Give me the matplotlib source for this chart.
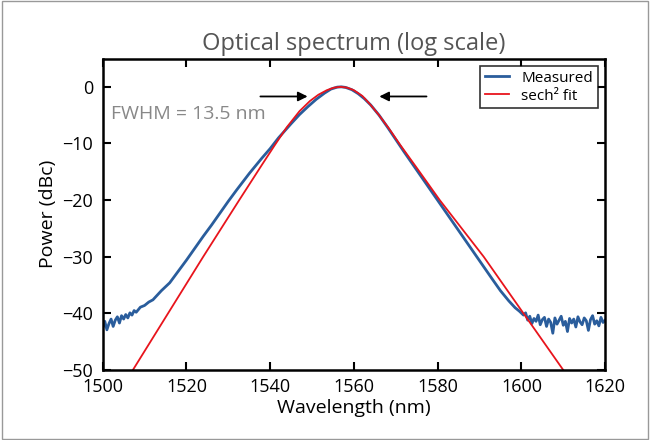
import numpy as np
import matplotlib.pyplot as plt

plt.rcParams['font.family'] = ['Open Sans', 'DejaVu Sans']

# measured spectrum (nm, dBc)
meas_wl = [1500, 1500.5, 1501, 1501.5, 1502, 1502.5, 1503, 1503.5, 1504, 1504.5, 1505, 1505.5,
           1506, 1506.5, 1507, 1507.5, 1508, 1509, 1510, 1511, 1512, 1513, 1514, 1516,
           1518, 1520, 1522, 1524, 1526, 1528, 1530, 1532, 1535, 1538, 1540, 1542, 1545,
           1547, 1549, 1551, 1553, 1554.5, 1556, 1557, 1558, 1559.5, 1561, 1562.5, 1564,
           1566, 1568, 1570, 1572, 1575, 1578, 1581, 1584, 1587, 1590, 1593, 1595,
           1597, 1598.5, 1599.5, 1600.5, 1601, 1601.5, 1602, 1602.5, 1603,
           1603.5, 1604, 1604.5, 1605, 1605.5, 1606, 1606.5, 1607, 1607.5, 1608, 1608.5,
           1609, 1609.5, 1610, 1610.5, 1611, 1611.5, 1612, 1612.5, 1613, 1613.5, 1614,
           1614.5, 1615, 1615.5, 1616, 1616.5, 1617, 1617.5, 1618, 1618.5, 1619, 1619.5, 1620]
meas_db = [-42.6, -41.4, -42.9, -41.8, -41.0, -42.3, -41.2, -40.6, -41.7, -40.4, -41.0, -40.2,
           -40.8, -39.9, -40.3, -39.5, -39.8, -38.9, -38.6, -38.0, -37.6, -36.8, -36.0, -34.6,
           -32.6, -30.6, -28.5, -26.4, -24.4, -22.3, -20.2, -18.2, -15.3, -12.6, -10.9, -9.0, -6.5,
           -4.9, -3.5, -2.2, -1.1, -0.4, -0.05, 0.0, -0.1, -0.5, -1.2, -2.1, -3.2,
           -5.0, -7.1, -9.3, -11.5, -14.7, -17.9, -21.1, -24.3, -27.5, -30.7, -33.9, -36.0,
           -37.8, -39.0, -39.6, -40.3, -39.9, -41.2, -40.5, -41.8, -40.9,
           -41.4, -40.3, -42.0, -41.1, -40.7, -42.3, -41.0, -41.6, -43.5, -40.8, -41.9,
           -41.2, -40.5, -42.1, -41.4, -43.2, -40.9, -41.7, -41.0, -42.4, -40.6, -41.5,
           -42.0, -40.8, -41.3, -43.0, -41.1, -40.4, -41.9, -41.3, -42.2, -40.7, -41.6, -41.2]

# sech^2 fit
fit_wl = [1500, 1507.2, 1515.6, 1524, 1532.6, 1538, 1541, 1544, 1547, 1549.5, 1551.5,
          1553.5, 1555.2, 1556.8, 1558.4, 1560, 1562, 1564, 1566, 1568.5, 1571, 1575,
          1580.5, 1591, 1600.5, 1610, 1620]
fit_db = [-58.5, -50.0, -40.0, -30.0, -20.0, -13.8, -10.4, -7.1, -4.3, -2.5, -1.4,
          -0.6, -0.15, 0.0, -0.15, -0.6, -1.6, -3.2, -5.0, -7.5, -10.2, -14.3,
          -20.0, -30.0, -40.0, -50.0, -60.0]

fig = plt.figure(figsize=(6.5, 4.4), dpi=100)
ax = fig.add_axes([0.158, 0.159, 0.773, 0.708])
ax.plot(meas_wl, meas_db, color='#2a5d9c', lw=2, label='Measured')
ax.plot(fit_wl, fit_db, color='#e8141c', lw=1.3, label='sech² fit')

ax.set_xlim(1500, 1620)
ax.set_ylim(-50, 5)
ax.set_xticks(np.arange(1500, 1621, 20))
ax.set_yticks(np.arange(-50, 1, 10))
ax.tick_params(direction='in', top=True, right=True, labelsize=13, length=6, width=1.5)
ax.tick_params(axis='x', pad=6)
ax.tick_params(axis='y', pad=7)
for s in ax.spines.values():
    s.set_linewidth(1.8)
ax.set_xlabel('Wavelength (nm)', fontsize=14, labelpad=2)
ax.set_ylabel('Power (dBc)', fontsize=14)
ax.set_title('Optical spectrum (log scale)', fontsize=17, color='#555555', pad=6)

ax.annotate('', xy=(1549.6, -1.7), xytext=(1537, -1.7),
            arrowprops=dict(arrowstyle='-|>', color='black', lw=1.3, mutation_scale=14))
ax.annotate('', xy=(1565.4, -1.7), xytext=(1578, -1.7),
            arrowprops=dict(arrowstyle='-|>', color='black', lw=1.3, mutation_scale=14))
ax.text(1502, -5.7, 'FWHM = 13.5 nm', fontsize=14, color='#888888')

leg = ax.legend(loc='upper right', fontsize=11, frameon=True, fancybox=False,
                edgecolor='black', handlelength=1.6, borderpad=0.3, labelspacing=0.2)
leg.get_frame().set_linewidth(1.2)

fig.patches.append(plt.Rectangle((0.003, 0.003), 0.994, 0.994, transform=fig.transFigure,
                                 fill=False, edgecolor='#999999', lw=1))
fig.savefig('out.png', dpi=100)
